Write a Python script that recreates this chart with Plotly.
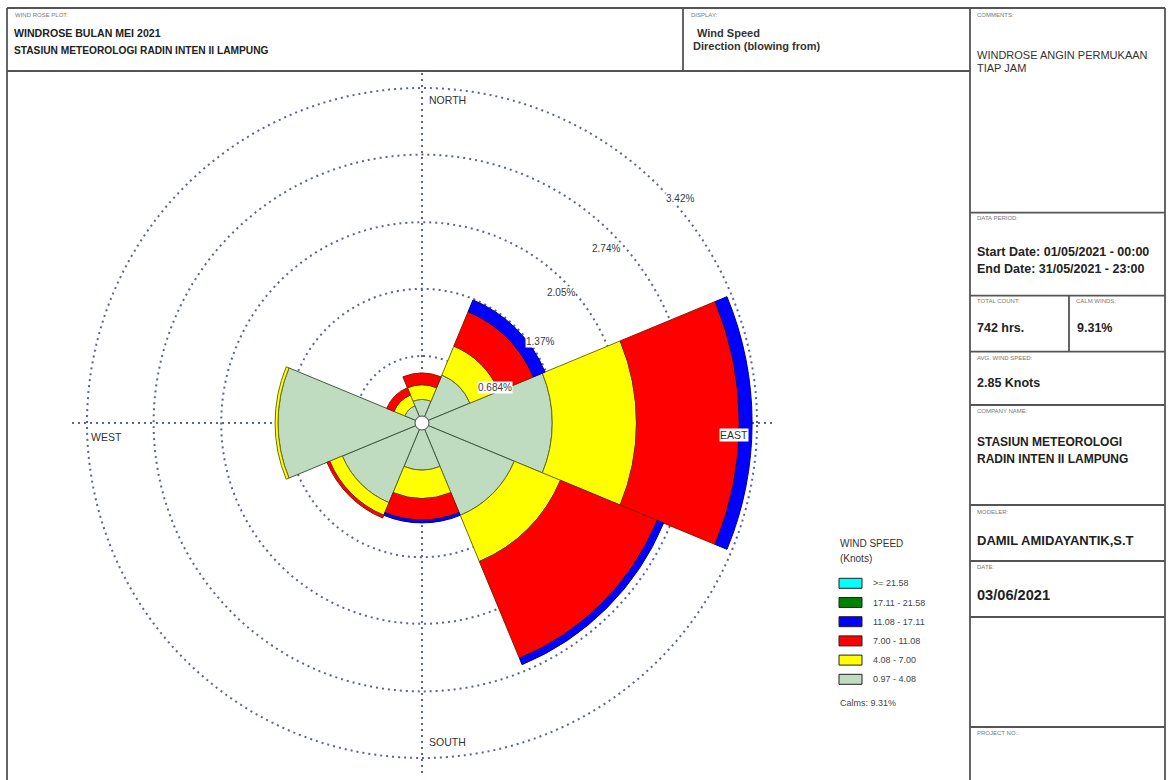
import math
import plotly.graph_objects as go

W, H = 1171, 780

# ---- wind rose data -------------------------------------------------------
dir_names = ["N", "NE", "E", "SE", "S", "SW", "W", "NW"]
dir_angles = [0, 45, 90, 135, 180, 225, 270, 315]

# frequency (%) per direction for each speed class (knots)
freq_097_408 = [0.24, 0.53, 1.33, 1.02, 0.48, 0.88, 1.47, 0.19]
freq_408_700 = [0.15, 0.32, 0.86, 0.51, 0.29, 0.14, 0.03, 0.12]
freq_700_1108 = [0.12, 0.38, 1.05, 1.07, 0.22, 0.03, 0.00, 0.08]
freq_1108_1711 = [0.00, 0.13, 0.13, 0.07, 0.03, 0.00, 0.00, 0.00]
freq_1711_2158 = [0.00, 0.00, 0.00, 0.00, 0.00, 0.00, 0.00, 0.00]
freq_ge_2158 = [0.00, 0.00, 0.00, 0.00, 0.00, 0.00, 0.00, 0.00]

speed_labels = [">= 21.58", "17.11 - 21.58", "11.08 - 17.11",
                "7.00 - 11.08", "4.08 - 7.00", "0.97 - 4.08"]
speed_colors = ["#00FFFF", "#008000", "#0000FF", "#FF0000", "#FFFF00", "#C0DCC0"]
speed_edges = ["#008b8b", "#004000", "#00008b", "#8b1a00", "#6e6e10", "#3f5a3f"]

ring_values = [0.684, 1.37, 2.05, 2.74, 3.42]
ring_labels = ["0.684%", "1.37%", "2.05%", "2.74%", "3.42%"]
calm_pct = 9.31

# ---- geometry of the rose -------------------------------------------------
CX, CY = 422, 423            # centre in page pixels
PX_PER_UNIT = 335 / 3.42     # radial scale
R_MAX = 3.6
R_PX = R_MAX * PX_PER_UNIT


def to_page(r, theta):
    t = math.radians(theta)
    return CX + r * PX_PER_UNIT * math.sin(t), CY - r * PX_PER_UNIT * math.cos(t)


def px(x):
    return x / W


def py(y):
    return 1 - y / H


fig = go.Figure()

# stacked petals, slowest class innermost
classes = [freq_097_408, freq_408_700, freq_700_1108,
           freq_1108_1711, freq_1711_2158, freq_ge_2158]
for i, vals in enumerate(classes):
    k = len(speed_labels) - 1 - i
    fig.add_trace(go.Barpolar(
        r=[v if v > 0 else None for v in vals],
        theta=dir_angles,
        width=[45] * len(dir_angles),
        name=speed_labels[k],
        marker=dict(color=speed_colors[k],
                    line=dict(color=speed_edges[k], width=1)),
        showlegend=False,
    ))

# calm hub
fig.add_trace(go.Scatterpolar(
    r=[0], theta=[0], mode="markers",
    marker=dict(size=14, color="white", line=dict(color="#4a4a4a", width=1)),
    showlegend=False, hoverinfo="skip",
))

GRID = "#5a6496"
GRID_DASH = "2px,4px"
fig.update_layout(
    width=W, height=H,
    margin=dict(l=0, r=0, t=0, b=0),
    paper_bgcolor="white",
    polar=dict(
        domain=dict(x=[px(CX - R_PX), px(CX + R_PX)],
                    y=[1 - (CY + R_PX) / H, 1 - (CY - R_PX) / H]),
        bgcolor="white",
        bargap=0,
        barmode="stack",
        radialaxis=dict(range=[0, R_MAX], tickvals=ring_values,
                        showticklabels=False, ticks="", showline=False,
                        gridcolor=GRID, gridwidth=1.6, griddash=GRID_DASH,
                        layer="below traces"),
        angularaxis=dict(direction="clockwise", rotation=90,
                         tickvals=[0, 90, 180, 270], showticklabels=False,
                         ticks="", showline=False,
                         gridcolor=GRID, gridwidth=1.6, griddash=GRID_DASH,
                         layer="below traces"),
    ),
)

ann = []
FONT = "Liberation Sans, Arial"


def text(x, y, s, size=11, bold=False, color="#222", xanchor="left", bg=None):
    ann.append(dict(
        x=px(x), y=py(y), xref="paper", yref="paper", showarrow=False,
        text=f"<b>{s}</b>" if bold else s, xanchor=xanchor, yanchor="middle",
        font=dict(size=size, color=color, family=FONT),
        bgcolor=bg, borderpad=0,
    ))


# ring labels
ring_label_pos = [(0.83, 64.4), (1.46, 55.5), (1.95, 46.7), (2.59, 46.4), (3.49, 48.9)]
for lab, (r, th) in zip(ring_labels, ring_label_pos):
    x, y = to_page(r, th)
    text(x, y, lab, size=10, color="#3a3a3a", xanchor="center", bg="white")

# compass labels
compass = [("NORTH", 0, 25, 12), ("EAST", 90, -23, 12), ("SOUTH", 180, 25, -16),
           ("WEST", 270, 19, 14)]
for lab, th, dx, dy in compass:
    x, y = to_page(3.42, th)
    text(x + dx, y + dy, lab, size=10.5, color="#333", xanchor="center", bg="white")

# legend
text(839, 543, "WIND SPEED", size=10, color="#333")
text(839, 558, "(Knots)", size=10, color="#333")
shapes = []
for i, (lab, col) in enumerate(zip(speed_labels, speed_colors)):
    yc = 583.3 + i * 19.2
    shapes.append(dict(type="rect", xref="paper", yref="paper",
                       x0=px(839), x1=px(862), y0=py(yc - 5), y1=py(yc + 5),
                       fillcolor=col, line=dict(color="#222", width=1)))
    text(872, yc, lab, size=9, color="#444")
text(839, 703, f"Calms: {calm_pct:.2f}%", size=9, color="#444")

# ---- page frame -----------------------------------------------------------
FRAME = dict(color="#555", width=1.8)


def hline(x0, x1, y):
    shapes.append(dict(type="line", xref="paper", yref="paper",
                       x0=px(x0), x1=px(x1), y0=py(y), y1=py(y), line=FRAME))


def vline(x, y0, y1):
    shapes.append(dict(type="line", xref="paper", yref="paper",
                       x0=px(x), x1=px(x), y0=py(y0), y1=py(y1), line=FRAME))


L, R, T, B = 7, 1165, 8, 800
hline(L, R, T)
vline(L, T, B)
vline(R, T, B)
vline(970, T, B)
vline(683, T, 71)
hline(L, 970, 71)
for yy in [212.7, 295.7, 351.7, 405, 505, 561, 617, 727]:
    hline(970, R, yy)
vline(1069, 295.7, 351.7)

SMALL = dict(size=6, color="#777")
for x, y, s in [(14, 15, "WIND ROSE PLOT:"), (690, 15, "DISPLAY:"), (976, 15, "COMMENTS:"),
                (976, 218, "DATA PERIOD:"), (976, 301, "TOTAL COUNT:"),
                (1075, 301, "CALM WINDS:"), (976, 358, "AVG. WIND SPEED:"),
                (976, 411, "COMPANY NAME:"), (976, 512, "MODELER:"),
                (976, 567, "DATE:"), (976, 733, "PROJECT NO.:")]:
    text(x, y, s, **SMALL)

# header
text(13, 33, "WINDROSE BULAN MEI 2021", size=10.6, bold=True)
text(13, 51, "STASIUN METEOROLOGI RADIN INTEN II LAMPUNG", size=10.2, bold=True)
text(696, 33, "Wind Speed", size=11, bold=True, color="#333")
text(692, 46, "Direction (blowing from)", size=11, bold=True, color="#333")
text(976, 55, "WINDROSE ANGIN PERMUKAAN", size=11, color="#333")
text(976, 68, "TIAP JAM", size=11, color="#333")

# side panel values
text(976, 252, "Start Date: 01/05/2021 - 00:00", size=12.5, bold=True)
text(976, 269, "End Date: 31/05/2021 - 23:00", size=12.5, bold=True)
text(976, 328, "742 hrs.", size=12.5, bold=True)
text(1076, 328, f"{calm_pct:.2f}%", size=12.5, bold=True)
text(976, 383, "2.85 Knots", size=12.5, bold=True)
text(976, 442, "STASIUN METEOROLOGI", size=12, bold=True)
text(976, 459, "RADIN INTEN II LAMPUNG", size=12, bold=True)
text(976, 540, "DAMIL AMIDAYANTIK,S.T", size=13, bold=True)
text(976, 595, "03/06/2021", size=14.6, bold=True)

fig.update_layout(annotations=ann, shapes=shapes)
fig.write_html("out.html")
